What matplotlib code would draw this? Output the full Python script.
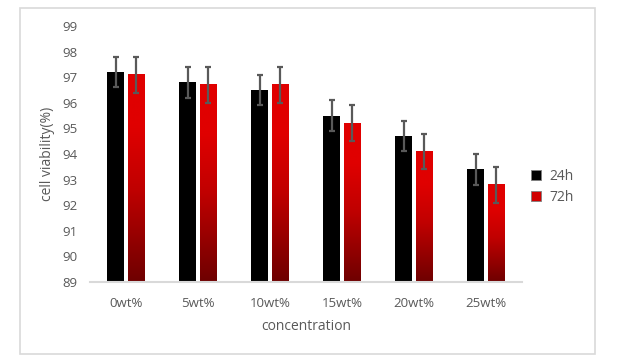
import matplotlib.pyplot as plt
import numpy as np
from matplotlib.colors import LinearSegmentedColormap
from matplotlib.patches import Rectangle

plt.rcParams['font.family'] = ['Open Sans', 'DejaVu Sans']

# data
categories = ['0wt%', '5wt%', '10wt%', '15wt%', '20wt%', '25wt%']
viab_24h = [97.2, 96.8, 96.5, 95.5, 94.7, 93.4]
err_24h = [0.6, 0.6, 0.6, 0.6, 0.6, 0.6]
viab_72h = [97.1, 96.7, 96.7, 95.2, 94.1, 92.8]
err_72h = [0.7, 0.7, 0.7, 0.7, 0.7, 0.7]
series_labels = ['24h', '72h']

grey = '#595959'
red_grad = LinearSegmentedColormap.from_list(
    'redgrad', [(0.0, '#6e0000'), (0.45, '#c00000'), (0.75, '#e00000'), (1.0, '#e00000')])

fig = plt.figure(figsize=(6.24, 3.61), dpi=100)
ax = fig.add_axes([90 / 624, 1 - 282 / 361, 432 / 624, 256 / 361])

# outer chart border
fig.patches.append(Rectangle((20 / 624, 1 - 354 / 361), 575 / 624, 346 / 361,
                             transform=fig.transFigure, fill=False,
                             edgecolor='#d9d9d9', linewidth=1.2))

x = np.arange(len(categories))
w = 0.23
off = 0.142
ymin = 89

b1 = ax.bar(x - off, np.array(viab_24h) - ymin, w, bottom=ymin, color='black',
            label=series_labels[0], zorder=2)
b2 = ax.bar(x + off, np.array(viab_72h) - ymin, w, bottom=ymin, color='none',
            label=series_labels[1], zorder=2)

# gradient fill for the 72h bars, one image per bar
grad = np.linspace(0, 1, 256).reshape(-1, 1)
for rect in b2:
    x0 = rect.get_x()
    y0 = rect.get_y()
    ax.imshow(grad, cmap=red_grad, origin='lower', aspect='auto',
              interpolation='bilinear',
              extent=[x0, x0 + rect.get_width(), y0, y0 + rect.get_height()],
              zorder=2.5)

ax.errorbar(x - off, viab_24h, yerr=err_24h, fmt='none', ecolor=grey,
            elinewidth=1.6, capsize=2.3, capthick=1.6, zorder=3)
ax.errorbar(x + off, viab_72h, yerr=err_72h, fmt='none', ecolor=grey,
            elinewidth=1.6, capsize=2.3, capthick=1.6, zorder=3)

ax.set_xlim(-0.5, len(categories) - 0.5)
ax.set_ylim(89, 99)
ax.set_yticks(range(89, 100))
ax.set_xticks(x)
ax.set_xticklabels(categories)
ax.tick_params(axis='both', length=0, labelsize=9.5, colors=grey)
ax.tick_params(axis='y', pad=9)
ax.tick_params(axis='x', pad=11)

for side in ['top', 'right', 'left']:
    ax.spines[side].set_visible(False)
ax.spines['bottom'].set_color('#d9d9d9')
ax.spines['bottom'].set_linewidth(1.5)

ax.set_ylabel('cell viability(%)', fontsize=10, color=grey, labelpad=5)
ax.set_xlabel('concentration', fontsize=10, color=grey, labelpad=6)

# legend with square markers
h1 = Rectangle((0, 0), 1, 1, facecolor='black', edgecolor='#7f7f7f', linewidth=0.6)
h2 = Rectangle((0, 0), 1, 1, facecolor='#d00000', edgecolor='#7f7f7f', linewidth=0.6)
leg = fig.legend([h1, h2], series_labels, loc='upper left',
                 bbox_to_anchor=(524 / 624, 1 - 162 / 361), frameon=False,
                 fontsize=10, handlelength=0.7, handleheight=0.7,
                 handletextpad=0.6, labelspacing=0.45, borderpad=0)
for t in leg.get_texts():
    t.set_color(grey)

fig.savefig('out.png', dpi=100)
